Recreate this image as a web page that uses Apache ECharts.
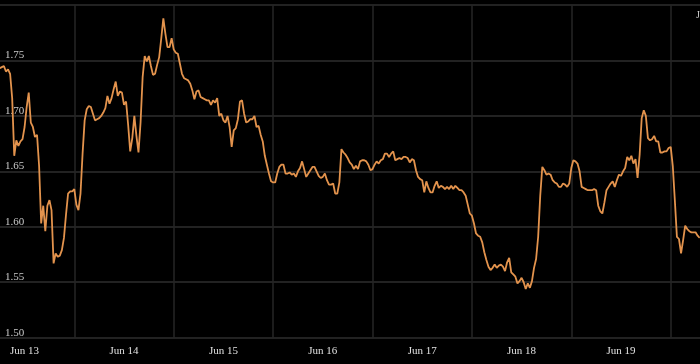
<!DOCTYPE html>
<html>
<head>
<meta charset="utf-8">
<script src="https://cdn.jsdelivr.net/npm/echarts@6/dist/echarts.min.js"></script>
<style>
html,body{margin:0;padding:0;background:#000;}
#chart{width:700px;height:364px;}
</style>
</head>
<body>
<div id="chart"></div>
<script>
// Day labels (category bands, one per day)
var dayLabels = ['Jun 13','Jun 14','Jun 15','Jun 16','Jun 17','Jun 18','Jun 19','Jun 20'];
// Half-hourly series, first point at Jun 13 06:00 (hours counted from Jun 13 00:00)
var startHour = 6;
var stepHours = 0.5;
var values = [
1.743,1.744,1.745,1.740,1.742,1.738,1.716,1.664,1.678,1.673,
1.677,1.679,1.690,1.708,1.721,1.694,1.690,1.681,1.683,1.655,
1.603,1.619,1.596,1.619,1.624,1.615,1.567,1.576,1.573,1.574,
1.579,1.590,1.611,1.630,1.632,1.632,1.634,1.620,1.615,1.630,
1.666,1.696,1.706,1.709,1.708,1.702,1.696,1.697,1.698,1.700,
1.703,1.707,1.718,1.711,1.716,1.724,1.731,1.718,1.722,1.721,
1.710,1.713,1.692,1.668,1.680,1.700,1.682,1.667,1.694,1.735,
1.754,1.749,1.754,1.745,1.737,1.738,1.746,1.753,1.770,1.788,
1.774,1.762,1.762,1.770,1.760,1.757,1.756,1.747,1.738,1.734,
1.733,1.732,1.729,1.723,1.715,1.722,1.723,1.717,1.716,1.715,
1.714,1.714,1.710,1.714,1.712,1.716,1.700,1.702,1.696,1.694,
1.700,1.690,1.672,1.687,1.689,1.697,1.713,1.714,1.702,1.694,
1.695,1.697,1.697,1.700,1.690,1.691,1.683,1.677,1.664,1.656,
1.648,1.641,1.640,1.640,1.648,1.654,1.656,1.656,1.648,1.648,
1.649,1.647,1.648,1.645,1.650,1.653,1.659,1.652,1.645,1.648,
1.651,1.654,1.654,1.650,1.646,1.644,1.645,1.648,1.642,1.638,
1.638,1.639,1.630,1.630,1.640,1.670,1.667,1.665,1.662,1.658,
1.656,1.652,1.655,1.652,1.659,1.660,1.660,1.659,1.656,1.651,
1.652,1.656,1.659,1.657,1.660,1.661,1.666,1.666,1.663,1.666,
1.668,1.660,1.661,1.662,1.661,1.663,1.663,1.662,1.658,1.661,
1.660,1.651,1.645,1.643,1.642,1.631,1.641,1.635,1.631,1.631,
1.637,1.641,1.635,1.637,1.636,1.634,1.636,1.634,1.637,1.634,
1.637,1.635,1.633,1.633,1.631,1.628,1.620,1.612,1.610,1.603,
1.594,1.592,1.591,1.586,1.577,1.570,1.564,1.561,1.563,1.566,
1.563,1.565,1.566,1.564,1.560,1.568,1.572,1.559,1.557,1.555,
1.549,1.551,1.554,1.550,1.544,1.549,1.545,1.551,1.563,1.571,
1.591,1.628,1.654,1.651,1.647,1.648,1.647,1.642,1.640,1.639,
1.636,1.636,1.639,1.638,1.636,1.639,1.653,1.660,1.659,1.657,
1.650,1.636,1.635,1.634,1.633,1.633,1.633,1.634,1.633,1.619,
1.614,1.612,1.622,1.633,1.636,1.639,1.641,1.636,1.642,1.647,
1.646,1.650,1.653,1.663,1.660,1.664,1.657,1.661,1.644,1.665,
1.698,1.705,1.700,1.680,1.678,1.679,1.682,1.677,1.677,1.667,
1.667,1.668,1.668,1.671,1.672,1.655,1.624,1.591,1.589,1.576,
1.588,1.601,1.598,1.596,1.595,1.595,1.595,1.592,1.590
];
var yMin = 1.50, yMax = 1.80, yStep = 0.05;

var seriesData = values.map(function (v, i) { return [startHour + i * stepHours, v]; });

var chart = echarts.init(document.getElementById('chart'), null, {renderer: 'canvas'});
chart.setOption({
  backgroundColor: '#000000',
  animation: false,
  grid: {left: -25.1, right: -70.1, top: 5, bottom: 26.3, containLabel: false, outerBoundsMode: 'none'},
  xAxis: [
    {
      type: 'category',
      data: dayLabels,
      boundaryGap: true,
      axisLine: {show: false},
      axisTick: {show: false},
      axisLabel: {
        color: '#e0e0e0', fontFamily: 'Liberation Serif', fontSize: 11, margin: 8, interval: 0
      },
      splitLine: {show: true, interval: 0, lineStyle: {color: '#262626', width: 1.5}}
    },
    {
      type: 'value',
      min: 0,
      max: dayLabels.length * 24,
      show: false
    }
  ],
  yAxis: {
    type: 'value',
    min: yMin, max: yMax, interval: yStep,
    axisLine: {show: false},
    axisTick: {show: false},
    axisLabel: {
      inside: true, margin: 30, showMaxLabel: false,
      color: '#c8c8c8', fontFamily: 'Liberation Serif', fontSize: 11,
      verticalAlign: 'bottom', lineHeight: 10,
      formatter: function (v) { return v.toFixed(2); }
    },
    splitLine: {show: true, lineStyle: {color: '#2e2e2e', width: 1.5}}
  },
  graphic: [{
    type: 'text', left: 696, top: 10,
    style: {text: 'Jun 20', fill: '#cccccc', font: '10px "Liberation Serif"'}
  }],
  series: [{
    type: 'line',
    xAxisIndex: 1,
    data: seriesData,
    showSymbol: false,
    smooth: false,
    clip: false,
    lineStyle: {color: '#e3934d', width: 1.8},
    itemStyle: {color: '#e3934d'}
  }]
});
</script>
</body>
</html>
